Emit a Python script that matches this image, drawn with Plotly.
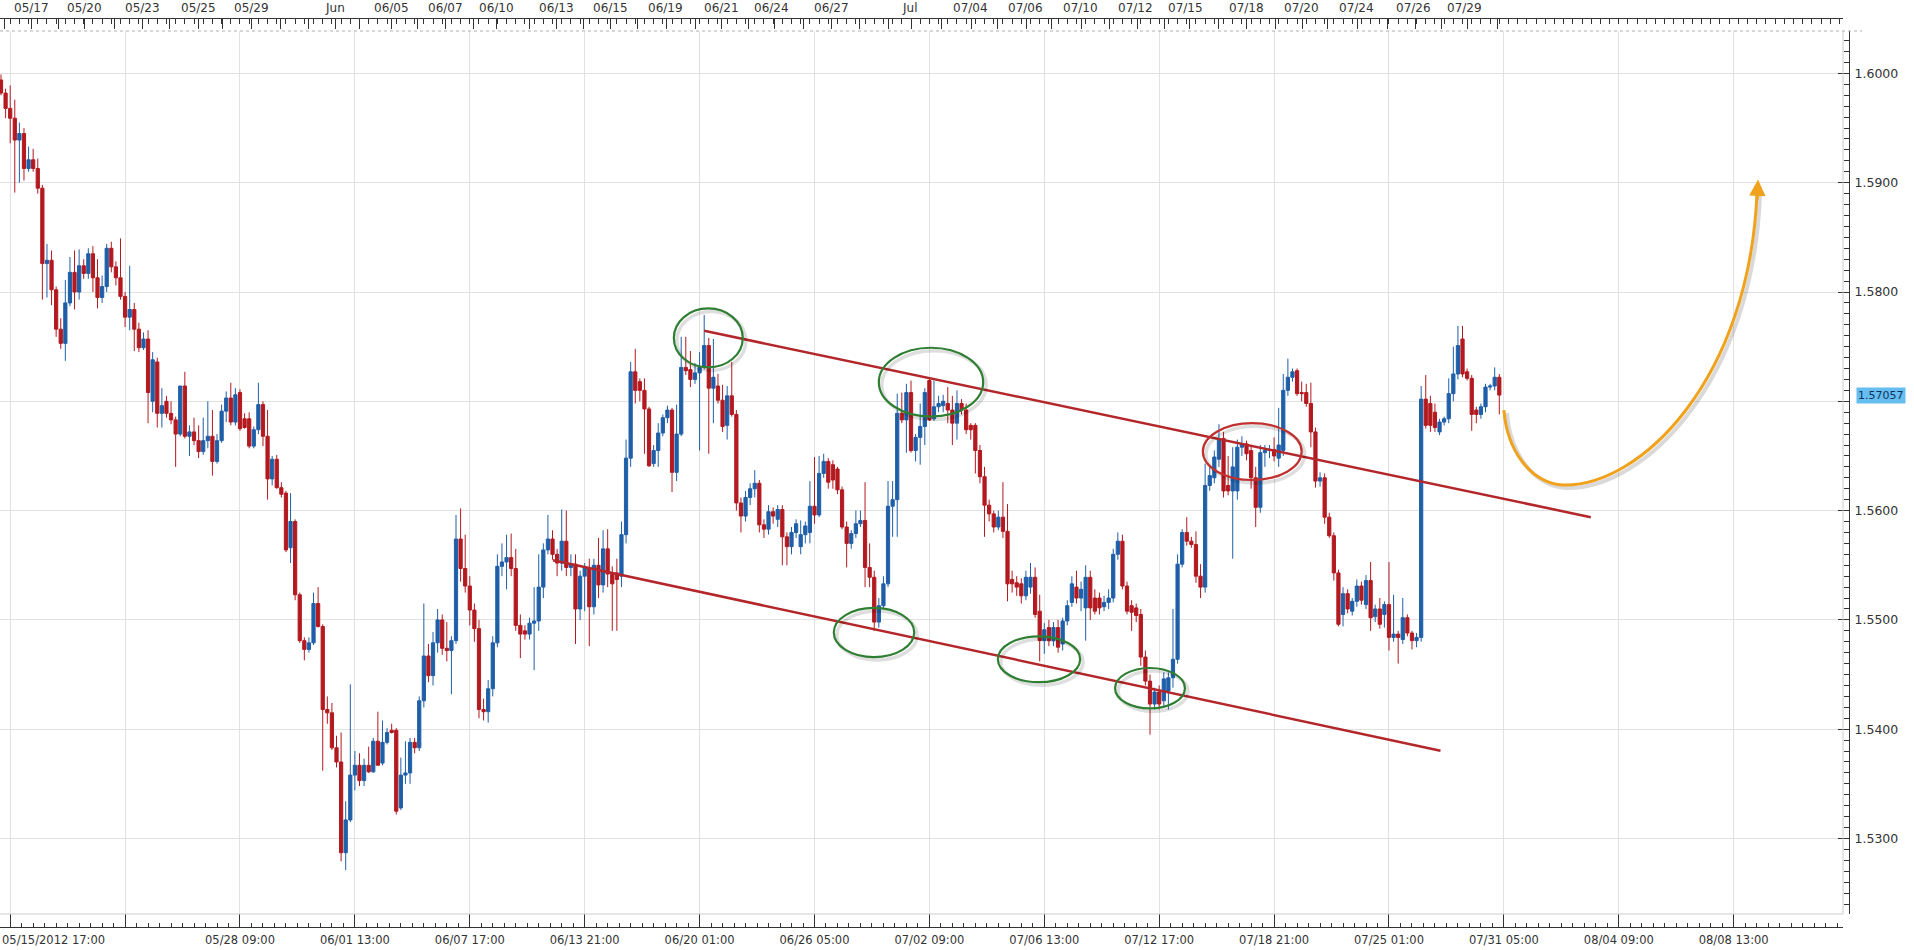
import plotly.graph_objects as go

W, H = 1914, 950

# ---------------- data (4-hour candles, index 0 = 05/15/2012 17:00) ----------------
opens = [
1.5994,1.5982,1.5968,1.5959,1.5939,1.5945,1.5913,1.5921,1.5913,1.5895,  # 0
1.5826,1.5829,1.5802,1.5766,1.5753,1.5790,1.5818,1.5800,1.5824,1.5817,  # 10
1.5835,1.5813,1.5795,1.5805,1.5840,1.5823,1.5813,1.5796,1.5777,1.5784,  # 20
1.5766,1.5749,1.5757,1.5700,1.5736,1.5689,1.5700,1.5689,1.5683,1.5670,  # 30
1.5714,1.5668,1.5672,1.5664,1.5654,1.5664,1.5668,1.5645,1.5664,1.5691,  # 40
1.5703,1.5681,1.5708,1.5684,1.5684,1.5659,1.5674,1.5697,1.5668,1.5629,  # 50
1.5647,1.5621,1.5616,1.5566,1.5590,1.5523,1.5481,1.5473,1.5479,1.5515,  # 60
1.5494,1.5418,1.5415,1.5383,1.5370,1.5287,1.5317,1.5358,1.5367,1.5353,  # 70
1.5367,1.5361,1.5389,1.5369,1.5388,1.5399,1.5399,1.5328,1.5358,1.5360,  # 80
1.5388,1.5383,1.5426,1.5467,1.5449,1.5479,1.5500,1.5474,1.5472,1.5481,  # 90
1.5574,1.5547,1.5531,1.5509,1.5492,1.5418,1.5416,1.5437,1.5479,1.5549,  # 100
1.5553,1.5557,1.5547,1.5495,1.5490,1.5487,1.5497,1.5499,1.5530,1.5564,  # 110
1.5574,1.5560,1.5552,1.5572,1.5548,1.5551,1.5510,1.5540,1.5548,1.5512,  # 120
1.5550,1.5532,1.5565,1.5542,1.5543,1.5540,1.5578,1.5648,1.5727,1.5718,  # 130
1.5710,1.5693,1.5643,1.5655,1.5671,1.5685,1.5692,1.5635,1.5670,1.5731,  # 140
1.5729,1.5720,1.5726,1.5731,1.5751,1.5712,1.5714,1.5701,1.5678,1.5705,  # 150
1.5688,1.5607,1.5595,1.5612,1.5620,1.5625,1.5587,1.5583,1.5599,1.5592,  # 160
1.5601,1.5576,1.5567,1.5580,1.5567,1.5578,1.5580,1.5604,1.5596,1.5634,  # 170
1.5645,1.5642,1.5638,1.5619,1.5585,1.5570,1.5579,1.5588,1.5591,1.5548,  # 180
1.5539,1.5498,1.5513,1.5533,1.5604,1.5610,1.5689,1.5683,1.5708,1.5655,  # 190
1.5667,1.5677,1.5719,1.5684,1.5695,1.5696,1.5698,1.5692,1.5680,1.5698,  # 200
1.5692,1.5678,1.5678,1.5655,1.5631,1.5605,1.5597,1.5585,1.5594,1.5581,  # 210
1.5537,1.5534,1.5533,1.5522,1.5530,1.5539,1.5508,1.5481,1.5493,1.5481,  # 220
1.5493,1.5478,1.5499,1.5516,1.5530,1.5520,1.5511,1.5539,1.5520,1.5520,  # 230
1.5512,1.5516,1.5520,1.5560,1.5572,1.5531,1.5513,1.5511,1.5505,1.5466,  # 240
1.5444,1.5423,1.5434,1.5426,1.5435,1.5447,1.5464,1.5551,1.5580,1.5572,  # 250
1.5569,1.5540,1.5530,1.5623,1.5630,1.5647,1.5666,1.5623,1.5618,1.5618,  # 260
1.5658,1.5661,1.5655,1.5630,1.5603,1.5653,1.5655,1.5656,1.5648,1.5655,  # 270
1.5710,1.5722,1.5728,1.5708,1.5708,1.5698,1.5672,1.5627,1.5630,1.5594,  # 280
1.5577,1.5543,1.5505,1.5524,1.5508,1.5517,1.5531,1.5514,1.5536,1.5503,  # 290
1.5510,1.5505,1.5514,1.5484,1.5487,1.5482,1.5502,1.5488,1.5481,1.5484,  # 300
1.5702,1.5698,1.5690,1.5672,1.5681,1.5684,1.5707,1.5725,1.5757,1.5727,  # 310
1.5721,1.5692,1.5688,1.5695,1.5713,1.5714,1.5722]                        # 320

highs = [
1.5999,1.5986,1.5989,1.5976,1.5955,1.5950,1.5933,1.5931,1.5922,1.5898,
1.5844,1.5838,1.5805,1.5776,1.5811,1.5832,1.5838,1.5839,1.5830,1.5840,
1.5842,1.5830,1.5815,1.5844,1.5846,1.5828,1.5849,1.5800,1.5824,1.5790,
1.5772,1.5763,1.5765,1.5745,1.5740,1.5712,1.5705,1.5700,1.5686,1.5714,
1.5727,1.5678,1.5685,1.5678,1.5685,1.5700,1.5692,1.5670,1.5697,1.5709,
1.5717,1.5712,1.5711,1.5689,1.5690,1.5677,1.5717,1.5700,1.5692,1.5650,
1.5651,1.5626,1.5618,1.5616,1.5592,1.5525,1.5484,1.5484,1.5525,1.5530,
1.5496,1.5430,1.5424,1.5394,1.5397,1.5334,1.5441,1.5380,1.5378,1.5373,
1.5384,1.5392,1.5416,1.5408,1.5401,1.5405,1.5401,1.5374,1.5389,1.5392,
1.5392,1.5430,1.5515,1.5478,1.5489,1.5510,1.5505,1.5498,1.5485,1.5596,
1.5602,1.5578,1.5540,1.5515,1.5500,1.5428,1.5445,1.5485,1.5560,1.5570,
1.5578,1.5579,1.5565,1.5505,1.5495,1.5502,1.5530,1.5560,1.5570,1.5596,
1.5582,1.5565,1.5601,1.5600,1.5560,1.5560,1.5545,1.5552,1.5556,1.5556,
1.5575,1.5582,1.5583,1.5549,1.5556,1.5590,1.5665,1.5736,1.5748,1.5721,
1.5721,1.5695,1.5660,1.5680,1.5688,1.5696,1.5694,1.5697,1.5759,1.5759,
1.5746,1.5735,1.5745,1.5779,1.5758,1.5757,1.5725,1.5715,1.5714,1.5736,
1.5692,1.5612,1.5618,1.5625,1.5637,1.5628,1.5592,1.5605,1.5603,1.5605,
1.5605,1.5580,1.5585,1.5592,1.5591,1.5590,1.5627,1.5649,1.5650,1.5652,
1.5648,1.5646,1.5640,1.5622,1.5590,1.5582,1.5600,1.5600,1.5626,1.5570,
1.5545,1.5520,1.5540,1.5627,1.5627,1.5707,1.5708,1.5716,1.5719,1.5670,
1.5698,1.5712,1.5722,1.5719,1.5705,1.5706,1.5713,1.5705,1.5710,1.5702,
1.5698,1.5680,1.5680,1.5660,1.5640,1.5610,1.5600,1.5600,1.5626,1.5606,
1.5545,1.5540,1.5538,1.5545,1.5552,1.5548,1.5523,1.5497,1.5500,1.5498,
1.5500,1.5502,1.5518,1.5540,1.5545,1.5535,1.5550,1.5545,1.5528,1.5525,
1.5522,1.5528,1.5565,1.5580,1.5578,1.5535,1.5518,1.5515,1.5510,1.5472,
1.5450,1.5438,1.5440,1.5452,1.5452,1.5510,1.5560,1.5583,1.5594,1.5576,
1.5581,1.5551,1.5643,1.5640,1.5655,1.5679,1.5672,1.5650,1.5658,1.5665,
1.5668,1.5664,1.5660,1.5640,1.5660,1.5660,1.5660,1.5667,1.5694,1.5725,
1.5739,1.5730,1.5730,1.5718,1.5716,1.5717,1.5676,1.5635,1.5634,1.5598,
1.5580,1.5546,1.5530,1.5528,1.5520,1.5537,1.5535,1.5541,1.5553,1.5514,
1.5520,1.5517,1.5553,1.5523,1.5490,1.5520,1.5505,1.5490,1.5488,1.5714,
1.5724,1.5705,1.5698,1.5684,1.5686,1.5721,1.5750,1.5769,1.5769,1.5730,
1.5724,1.5695,1.5698,1.5716,1.5716,1.5731,1.5725]

lows = [
1.5980,1.5959,1.5936,1.5891,1.5900,1.5902,1.5910,1.5910,1.5890,1.5793,
1.5795,1.5788,1.5759,1.5748,1.5737,1.5787,1.5784,1.5793,1.5812,1.5812,
1.5800,1.5785,1.5790,1.5800,1.5818,1.5806,1.5793,1.5768,1.5765,1.5746,
1.5745,1.5747,1.5680,1.5690,1.5676,1.5676,1.5685,1.5679,1.5640,1.5668,
1.5666,1.5650,1.5660,1.5648,1.5651,1.5657,1.5632,1.5643,1.5662,1.5681,
1.5678,1.5678,1.5673,1.5675,1.5657,1.5657,1.5670,1.5659,1.5610,1.5623,
1.5620,1.5612,1.5562,1.5552,1.5518,1.5479,1.5463,1.5470,1.5477,1.5493,
1.5362,1.5405,1.5381,1.5365,1.5279,1.5271,1.5315,1.5344,1.5348,1.5348,
1.5360,1.5360,1.5367,1.5367,1.5386,1.5396,1.5322,1.5326,1.5350,1.5350,
1.5378,1.5380,1.5420,1.5443,1.5440,1.5470,1.5468,1.5462,1.5432,1.5478,
1.5535,1.5525,1.5495,1.5480,1.5410,1.5408,1.5406,1.5430,1.5475,1.5540,
1.5528,1.5540,1.5490,1.5465,1.5482,1.5482,1.5454,1.5490,1.5520,1.5560,
1.5555,1.5540,1.5545,1.5540,1.5540,1.5478,1.5500,1.5508,1.5476,1.5505,
1.5520,1.5525,1.5530,1.5490,1.5490,1.5530,1.5570,1.5640,1.5698,1.5700,
1.5652,1.5640,1.5640,1.5640,1.5668,1.5680,1.5617,1.5627,1.5668,1.5724,
1.5713,1.5716,1.5655,1.5729,1.5652,1.5680,1.5698,1.5672,1.5665,1.5686,
1.5600,1.5580,1.5590,1.5605,1.5612,1.5580,1.5575,1.5578,1.5588,1.5585,
1.5550,1.5550,1.5560,1.5575,1.5560,1.5570,1.5570,1.5588,1.5594,1.5630,
1.5620,1.5620,1.5615,1.5583,1.5548,1.5565,1.5575,1.5585,1.5530,1.5530,
1.5490,1.5493,1.5510,1.5530,1.5576,1.5576,1.5680,1.5653,1.5653,1.5645,
1.5642,1.5660,1.5682,1.5682,1.5690,1.5690,1.5680,1.5660,1.5665,1.5688,
1.5670,1.5665,1.5634,1.5625,1.5576,1.5590,1.5580,1.5582,1.5575,1.5517,
1.5525,1.5522,1.5515,1.5518,1.5524,1.5502,1.5462,1.5469,1.5476,1.5476,
1.5470,1.5472,1.5495,1.5512,1.5515,1.5508,1.5481,1.5500,1.5505,1.5505,
1.5508,1.5510,1.5516,1.5555,1.5528,1.5505,1.5490,1.5498,1.5458,1.5440,
1.5395,1.5418,1.5418,1.5420,1.5418,1.5438,1.5460,1.5548,1.5568,1.5566,
1.5534,1.5520,1.5525,1.5618,1.5625,1.5640,1.5612,1.5614,1.5556,1.5610,
1.5650,1.5646,1.5620,1.5585,1.5598,1.5640,1.5648,1.5645,1.5640,1.5650,
1.5705,1.5718,1.5705,1.5700,1.5695,1.5658,1.5621,1.5622,1.5588,1.5575,
1.5536,1.5494,1.5494,1.5506,1.5504,1.5512,1.5514,1.5510,1.5490,1.5498,
1.5492,1.5493,1.5472,1.5480,1.5460,1.5478,1.5485,1.5473,1.5475,1.5480,
1.5675,1.5672,1.5672,1.5669,1.5678,1.5680,1.5700,1.5720,1.5722,1.5719,
1.5673,1.5680,1.5684,1.5690,1.5710,1.5710,1.5688]

closes = [
1.5982,1.5968,1.5959,1.5939,1.5945,1.5913,1.5921,1.5913,1.5895,1.5826,
1.5829,1.5802,1.5766,1.5753,1.5790,1.5818,1.5800,1.5824,1.5817,1.5835,
1.5813,1.5795,1.5805,1.5840,1.5823,1.5813,1.5796,1.5777,1.5784,1.5766,
1.5749,1.5757,1.5708,1.5738,1.5689,1.5696,1.5689,1.5683,1.5670,1.5714,
1.5668,1.5672,1.5664,1.5654,1.5664,1.5668,1.5645,1.5664,1.5691,1.5703,
1.5681,1.5706,1.5675,1.5676,1.5659,1.5674,1.5697,1.5668,1.5629,1.5647,
1.5621,1.5615,1.5564,1.5590,1.5523,1.5481,1.5473,1.5479,1.5515,1.5494,
1.5418,1.5415,1.5383,1.5370,1.5287,1.5317,1.5358,1.5367,1.5353,1.5367,
1.5361,1.5389,1.5367,1.5388,1.5397,1.5397,1.5325,1.5358,1.5360,1.5388,
1.5383,1.5426,1.5467,1.5449,1.5479,1.5500,1.5474,1.5472,1.5481,1.5574,
1.5547,1.5531,1.5509,1.5492,1.5418,1.5416,1.5437,1.5479,1.5549,1.5553,
1.5557,1.5547,1.5495,1.5487,1.5487,1.5497,1.5499,1.5530,1.5564,1.5574,
1.5560,1.5552,1.5572,1.5548,1.5551,1.5510,1.5540,1.5548,1.5512,1.5550,
1.5532,1.5565,1.5542,1.5533,1.5537,1.5578,1.5648,1.5727,1.5710,1.5710,
1.5693,1.5641,1.5655,1.5671,1.5685,1.5692,1.5635,1.5670,1.5731,1.5728,
1.5720,1.5726,1.5731,1.5751,1.5712,1.5722,1.5701,1.5677,1.5705,1.5688,
1.5607,1.5595,1.5612,1.5620,1.5625,1.5587,1.5583,1.5599,1.5595,1.5601,
1.5576,1.5567,1.5580,1.5588,1.5578,1.5586,1.5604,1.5596,1.5634,1.5645,
1.5626,1.5628,1.5619,1.5585,1.5570,1.5579,1.5588,1.5591,1.5548,1.5539,
1.5498,1.5513,1.5533,1.5604,1.5610,1.5689,1.5683,1.5708,1.5655,1.5667,
1.5677,1.5708,1.5683,1.5695,1.5698,1.5700,1.5692,1.5680,1.5698,1.5692,
1.5674,1.5674,1.5655,1.5631,1.5605,1.5597,1.5585,1.5594,1.5581,1.5533,
1.5533,1.5530,1.5522,1.5539,1.5539,1.5505,1.5481,1.5491,1.5481,1.5493,
1.5475,1.5499,1.5513,1.5533,1.5520,1.5528,1.5539,1.5511,1.5508,1.5511,
1.5516,1.5520,1.5560,1.5572,1.5531,1.5508,1.5507,1.5504,1.5466,1.5444,
1.5423,1.5434,1.5423,1.5446,1.5447,1.5464,1.5551,1.5580,1.5572,1.5569,
1.5540,1.5530,1.5623,1.5632,1.5649,1.5666,1.5618,1.5618,1.5640,1.5658,
1.5661,1.5652,1.5630,1.5603,1.5653,1.5655,1.5656,1.5650,1.5660,1.5710,
1.5722,1.5727,1.5707,1.5707,1.5698,1.5672,1.5627,1.5630,1.5594,1.5577,
1.5543,1.5496,1.5524,1.5510,1.5517,1.5531,1.5518,1.5536,1.5502,1.5510,
1.5496,1.5514,1.5484,1.5487,1.5484,1.5502,1.5488,1.5481,1.5484,1.5702,
1.5678,1.5678,1.5676,1.5681,1.5684,1.5707,1.5725,1.5751,1.5725,1.5721,
1.5688,1.5688,1.5695,1.5713,1.5714,1.5722,1.57057]

last_price = "1.57057"

# axis labels
price_ticks = [1.53, 1.54, 1.55, 1.56, 1.57, 1.58, 1.59, 1.60]
price_tick_text = ["1.5300", "1.5400", "1.5500", "1.5600", "", "1.5800", "1.5900", "1.6000"]

bottom_tick_pos = [2, 27, 52, 77, 102, 127, 152, 177, 202, 227, 252, 277, 302, 327, 352, 377]
bottom_tick_text = ["", "", "05/28 09:00", "06/01 13:00", "06/07 17:00", "06/13 21:00",
                    "06/20 01:00", "06/26 05:00", "07/02 09:00", "07/06 13:00", "07/12 17:00",
                    "07/18 21:00", "07/25 01:00", "07/31 05:00", "08/04 09:00", "08/08 13:00"]
first_label = "05/15/2012 17:00"

top_labels = ["05/17", "05/20", "05/23", "05/25", "05/29", "Jun", "06/05", "06/07", "06/10",
              "06/13", "06/15", "06/19", "06/21", "06/24", "06/27", "Jul", "07/04", "07/06",
              "07/10", "07/12", "07/15", "07/18", "07/20", "07/24", "07/26", "07/29"]
top_label_pos = [6.7, 18.1, 30.7, 42.9, 54.6, 72.7, 84.9, 96.8, 107.9, 120.8, 132.7, 144.6,
                 156.7, 167.6, 180.7, 197.7, 211.0, 223.0, 234.9, 246.9, 257.8, 270.9, 283.0,
                 295.0, 307.4, 318.4]

event_marks = [0.7, 6.7, 12.6, 18.1, 24.6, 30.7, 36.6, 42.9, 48.1, 54.6, 60.9, 66.8, 72.7,
               78.1, 84.9, 90.7, 96.8, 102.7, 107.9, 114.9, 120.8, 126.8, 132.7, 138.4, 144.8,
               151.0, 156.8, 162.7, 168.2, 174.5, 180.8, 186.9, 193.0, 198.0, 204.7, 211.1,
               216.9, 223.2, 228.5, 235.0, 241.1, 247.2, 253.1, 258.5, 265.0, 271.1, 277.4,
               283.1, 288.7, 295.1, 301.6, 307.7, 313.5, 319.0, 325.7]

# drawings (chart coordinates: candle index, price)
upper_line_x = [153.0, 345.9]
upper_line_y = [1.57645, 1.55940]
lower_line_x = [120.1, 313.2]
lower_line_y = [1.55545, 1.53803]

green_ellipses_x = [(146.4, 161.4), (191.0, 213.7), (181.2, 198.7), (216.9, 234.8), (242.4, 257.6)]
green_ellipses_y = [(1.5731, 1.5785), (1.5686, 1.5749), (1.5466, 1.5511), (1.5443, 1.5485), (1.5419, 1.5456)]
red_ellipse_x = (261.5, 283.0)
red_ellipse_y = (1.5628, 1.5680)

curve_x = [327.0, 327.7, 332.7, 339.9, 356.6, 380.6, 382.1]
curve_y = [1.56920, 1.56554, 1.56253, 1.56234, 1.56216, 1.57195, 1.58933]
arrow_tip = (382.3, 1.59030)

# ---------------- geometry ----------------
PLOT_L, PLOT_R, PLOT_T, PLOT_B = 0, 1843, 31, 914
YAXIS_X = 1849
TOP_AXIS_Y = 18
BOT_AXIS_Y = 927
PX_PER_CANDLE = 4.596
X0 = -1 / PX_PER_CANDLE
X1 = X0 + (PLOT_R - PLOT_L) / PX_PER_CANDLE
P_PER_PX = 1 / 10930.0
Y_TOP = 1.6 + (73.4 - PLOT_T) * P_PER_PX
Y_BOT = 1.6 - (PLOT_B - 73.4) * P_PER_PX


def fx(px):
    return px / W


def fy(px):
    return 1 - px / H


FONT = "DejaVu Sans"
BLUE = "#1f5fa8"
RED = "#b3191f"
AX = "#333333"
GRID = "#e1e1e1"

idx = list(range(len(opens)))

fig = go.Figure()
fig.add_trace(go.Candlestick(
    x=idx, open=opens, high=highs, low=lows, close=closes,
    increasing=dict(line=dict(color=BLUE, width=1), fillcolor=BLUE),
    decreasing=dict(line=dict(color=RED, width=1), fillcolor=RED),
    whiskerwidth=0, hoverinfo="skip", showlegend=False))

# orange event markers in the top band
mark_y = Y_TOP + (PLOT_T - 24) * P_PER_PX
fig.add_trace(go.Scatter(
    x=event_marks, y=[mark_y] * len(event_marks), mode="markers",
    marker=dict(symbol="triangle-down", size=9, color="#f3b63c",
                line=dict(color="#d9961a", width=1)),
    cliponaxis=False, hoverinfo="skip", showlegend=False))

shapes = []
# plot frame
shapes.append(dict(type="line", xref="paper", yref="paper", x0=fx(PLOT_R), x1=fx(PLOT_R),
                   y0=fy(PLOT_B), y1=fy(PLOT_T), line=dict(color="#cccccc", width=1)))
shapes.append(dict(type="line", xref="paper", yref="paper", x0=0, x1=fx(PLOT_R),
                   y0=fy(PLOT_B), y1=fy(PLOT_B), line=dict(color="#cccccc", width=1)))
shapes.append(dict(type="line", xref="paper", yref="paper", x0=0, x1=fx(1862),
                   y0=fy(PLOT_T), y1=fy(PLOT_T), line=dict(color="#b0b0b0", width=1, dash="dot")))

# trend lines
for lx, ly in ((upper_line_x, upper_line_y), (lower_line_x, lower_line_y)):
    shapes.append(dict(type="line", xref="x", yref="y", x0=lx[0], y0=ly[0], x1=lx[1], y1=ly[1],
                       line=dict(color="#b3272b", width=2.5), layer="above"))

dxs = 3 / PX_PER_CANDLE
dys = 3 * P_PER_PX


def ellipse(xr, yr, color):
    out = [dict(type="circle", xref="x", yref="y", x0=xr[0] + dxs, x1=xr[1] + dxs,
                y0=yr[0] - dys, y1=yr[1] - dys,
                line=dict(color="rgba(0,0,0,0.13)", width=3.5), layer="above"),
           dict(type="circle", xref="x", yref="y", x0=xr[0], x1=xr[1], y0=yr[0], y1=yr[1],
                line=dict(color=color, width=2.2), layer="above")]
    return out


for ex, ey in zip(green_ellipses_x, green_ellipses_y):
    shapes += ellipse(ex, ey, "#2f7f33")
shapes += ellipse(red_ellipse_x, red_ellipse_y, "#c0312f")


def curve_path(xs, ys, ddx=0.0, ddy=0.0):
    p = [(x + ddx, y + ddy) for x, y in zip(xs, ys)]
    return ("M %.3f,%.5f C %.3f,%.5f %.3f,%.5f %.3f,%.5f C %.3f,%.5f %.3f,%.5f %.3f,%.5f"
            % (p[0] + p[1] + p[2] + p[3] + p[4] + p[5] + p[6]))


shapes.append(dict(type="path", xref="x", yref="y", path=curve_path(curve_x, curve_y, dxs, -dys),
                   line=dict(color="rgba(0,0,0,0.15)", width=4), layer="above"))
shapes.append(dict(type="path", xref="x", yref="y", path=curve_path(curve_x, curve_y),
                   line=dict(color="#f0a21c", width=3), layer="above"))

annotations = []
for lab, pos in zip(top_labels, top_label_pos):
    annotations.append(dict(x=pos, xref="x", y=fy(8), yref="paper", text=lab, showarrow=False,
                            xanchor="center", yanchor="middle",
                            font=dict(family=FONT, size=12, color=AX)))
annotations.append(dict(x=0, xref="paper", y=fy(940), yref="paper", text=first_label,
                        showarrow=False, xanchor="left", yanchor="middle",
                        font=dict(family=FONT, size=11.5, color=AX)))
annotations.append(dict(x=fx(1856), xref="paper", y=float(last_price), yref="y", text=last_price,
                        showarrow=False, xanchor="left", yanchor="middle", bgcolor="#66bdf0",
                        borderpad=1, font=dict(family=FONT, size=11, color="#12325e")))
annotations.append(dict(x=arrow_tip[0], y=arrow_tip[1], xref="x", yref="y",
                        ax=curve_x[-1], ay=curve_y[-1] - 0.0010, axref="x", ayref="y",
                        text="", showarrow=True, arrowhead=2, arrowsize=1.1, arrowwidth=3,
                        arrowcolor="#f0a21c"))

fig.update_layout(
    width=W, height=H, margin=dict(l=0, r=0, t=0, b=0),
    paper_bgcolor="white", plot_bgcolor="white", showlegend=False, hovermode=False,
    boxgap=0.3, boxgroupgap=0,
    xaxis=dict(domain=[fx(PLOT_L), fx(PLOT_R)], range=[X0, X1], tickvals=bottom_tick_pos,
               showticklabels=False, ticks="", showgrid=True, gridcolor=GRID, gridwidth=1,
               zeroline=False, showline=False, rangeslider=dict(visible=False), fixedrange=True),
    yaxis=dict(domain=[fy(PLOT_B), fy(PLOT_T)], range=[Y_BOT, Y_TOP], side="right",
               anchor="free", position=fx(YAXIS_X), tickvals=price_ticks,
               ticktext=price_tick_text,
               ticks="inside", ticklen=11, tickcolor=AX, showline=True, linecolor=AX,
               showgrid=True, gridcolor=GRID, zeroline=False, ticklabelstandoff=2,
               tickfont=dict(family=FONT, size=12.5, color=AX),
               minor=dict(dtick=0.001, tick0=1.6, ticks="inside", ticklen=5, tickcolor=AX,
                          showgrid=False), fixedrange=True),
    xaxis2=dict(overlaying="x", anchor="free", position=fy(TOP_AXIS_Y), side="top",
                range=[X0, X1], domain=[fx(PLOT_L), fx(PLOT_R)], tickvals=event_marks,
                showticklabels=False, ticks="inside", ticklen=10, tickcolor=AX,
                showline=True, linecolor=AX, showgrid=False, zeroline=False,
                minor=dict(dtick=2, tick0=0, ticks="inside", ticklen=5, tickcolor=AX,
                           showgrid=False), fixedrange=True),
    xaxis3=dict(overlaying="x", anchor="free", position=fy(BOT_AXIS_Y), side="bottom",
                range=[X0, X1], domain=[fx(PLOT_L), fx(PLOT_R)], tickvals=bottom_tick_pos,
                ticktext=bottom_tick_text, ticks="inside", ticklen=13, tickcolor=AX,
                showline=True, linecolor=AX, showgrid=False, zeroline=False,
                ticklabelstandoff=2, tickfont=dict(family=FONT, size=11.5, color=AX),
                minor=dict(dtick=2.5, tick0=2, ticks="inside", ticklen=4, tickcolor=AX,
                           showgrid=False), fixedrange=True),
    shapes=shapes, annotations=annotations,
)

# invisible traces so the overlay axes are drawn
fig.add_trace(go.Scatter(x=[X0], y=[Y_BOT], xaxis="x2", yaxis="y", mode="markers",
                         marker=dict(opacity=0), hoverinfo="skip", showlegend=False))
fig.add_trace(go.Scatter(x=[X0], y=[Y_BOT], xaxis="x3", yaxis="y", mode="markers",
                         marker=dict(opacity=0), hoverinfo="skip", showlegend=False))

fig.write_html("out.html",
               config={"displayModeBar": False, "staticPlot": False},
               post_script="document.body.style.margin='0px';document.body.style.padding='0px';"
                           "document.body.style.overflow='hidden';")
